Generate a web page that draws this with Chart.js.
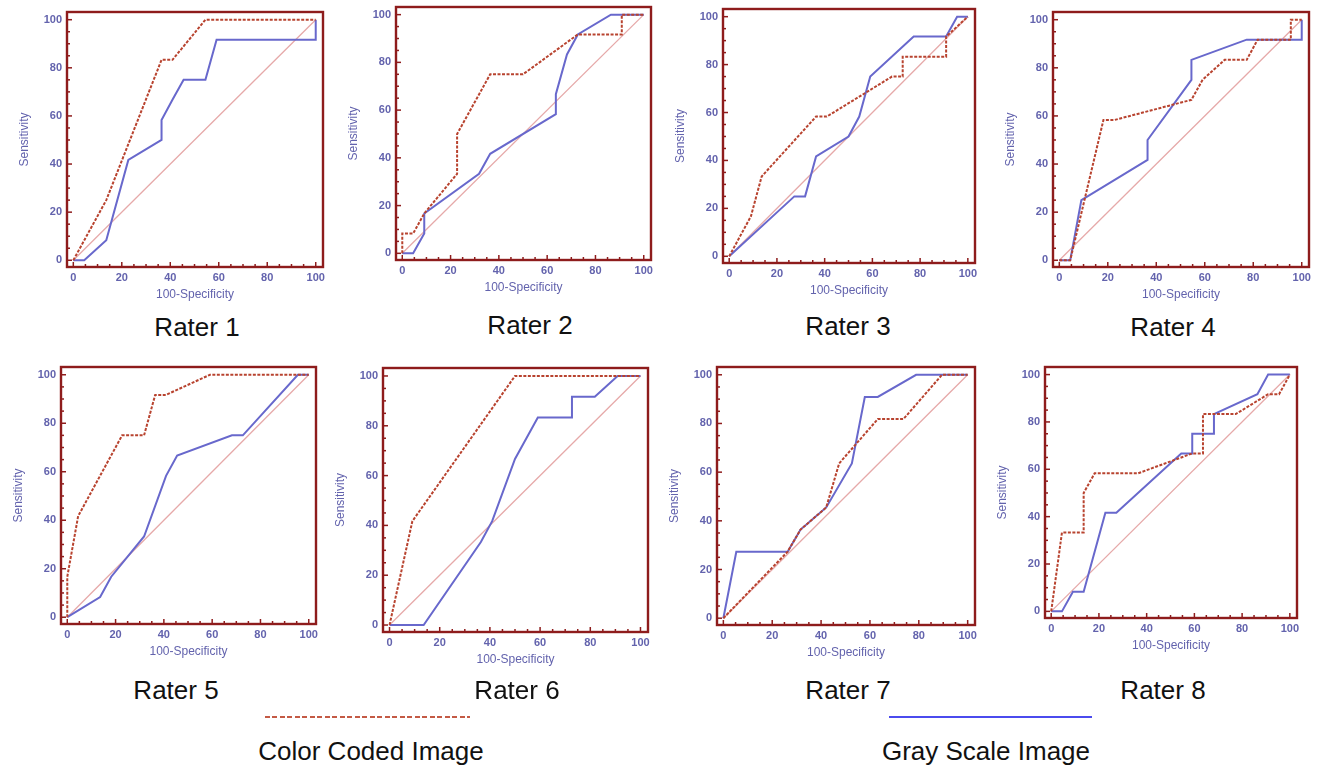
<!DOCTYPE html>
<html><head><meta charset="utf-8">
<script src="https://cdn.jsdelivr.net/npm/chart.js@4.4.0/dist/chart.umd.min.js"></script>
<style>
body{margin:0;background:#fff;width:1326px;height:773px;position:relative;overflow:hidden;font-family:"Liberation Sans",Arial,sans-serif;}
canvas{position:absolute}
.ttl{position:absolute;font-size:26px;color:#111;transform:translate(-50%,-50%);white-space:nowrap;line-height:1}
</style></head><body>
<script>
// ---------------- DATA ----------------
const raterNames = ["Rater 1","Rater 2","Rater 3","Rater 4","Rater 5","Rater 6","Rater 7","Rater 8"];
const seriesNames = ["Color Coded Image","Gray Scale Image"];
const tickValues = [0,20,40,60,80,100];
const minorTickValues = [0,5,10,15,20,25,30,35,40,45,50,55,60,65,70,75,80,85,90,95,100];
const xAxisTitle = "100-Specificity";
const yAxisTitle = "Sensitivity";
const diagonal = [[0,0],[100,100]];

// Color coded image (red dashed) : [100-Specificity, Sensitivity]
const rater1Color = [[0,0],[13.6,25],[36.4,83.3],[40.9,83.3],[54.5,100],[100,100]];
const rater2Color = [[0,0],[0,8.3],[4.5,8.3],[9.1,16.7],[22.7,33.3],[22.7,50],[36.4,75],[50,75],[72.7,91.7],[90.9,91.7],[90.9,100],[100,100]];
const rater3Color = [[0,0],[9.1,16.7],[13.6,33.3],[36.4,58.3],[40.9,58.3],[68.2,75],[72.7,75],[72.7,83.3],[90.9,83.3],[90.9,91.7],[100,100]];
const rater4Color = [[0,0],[4.5,0],[18.2,58.3],[22.7,58.3],[54.5,66.7],[59.1,75],[68.2,83.3],[77.3,83.3],[81.8,91.7],[95.5,91.7],[95.5,100],[100,100]];
const rater5Color = [[0,0],[0,16.7],[4.5,41.7],[22.7,75],[31.8,75],[36.4,91.7],[40.9,91.7],[59.1,100],[100,100]];
const rater6Color = [[0,0],[9.1,41.7],[50,100],[100,100]];
const rater7Color = [[0,0],[26.3,27.3],[31.6,36.4],[42.1,45.5],[47.4,63.6],[63.2,81.8],[73.7,81.8],[89.5,100],[100,100]];
const rater8Color = [[0,0],[4.5,33.3],[13.6,33.3],[13.6,50],[18.2,58.3],[36.4,58.3],[59.1,66.7],[63.6,66.7],[63.6,83.3],[77.3,83.3],[90.9,91.7],[95.5,91.7],[100,100]];

// Gray scale image (blue solid)
const rater1Gray = [[0,0],[4.5,0],[13.6,8.3],[22.7,41.7],[36.4,50],[36.4,58.3],[40.9,66.7],[45.5,75],[54.5,75],[59.1,91.7],[100,91.7],[100,100]];
const rater2Gray = [[0,0],[4.5,0],[9.1,8.3],[9.1,16.7],[31.8,33.3],[36.4,41.7],[63.6,58.3],[63.6,66.7],[68.2,83.3],[72.7,91.7],[86.4,100],[100,100]];
const rater3Gray = [[0,0],[27.3,25],[31.8,25],[36.4,41.7],[50,50],[54.5,58.3],[59.1,75],[77.3,91.7],[90.9,91.7],[95.5,100],[100,100]];
const rater4Gray = [[0,0],[4.5,0],[9.1,25],[36.4,41.7],[36.4,50],[54.5,75],[54.5,83.3],[77.3,91.7],[100,91.7],[100,100]];
const rater5Gray = [[0,0],[13.6,8.3],[18.2,16.7],[31.8,33.3],[40.9,58.3],[45.5,66.7],[68.2,75],[72.7,75],[95.5,100],[100,100]];
const rater6Gray = [[0,0],[13.6,0],[36.4,33.3],[40.9,41.7],[50,66.7],[59.1,83.3],[72.7,83.3],[72.7,91.7],[81.8,91.7],[90.9,100],[100,100]];
const rater7Gray = [[0,0],[5.3,27.3],[26.3,27.3],[31.6,36.4],[42.1,45.5],[52.6,63.6],[57.9,90.9],[63.2,90.9],[78.9,100],[100,100]];
const rater8Gray = [[0,0],[4.5,0],[9.1,8.3],[13.6,8.3],[22.7,41.7],[27.3,41.7],[54.5,66.7],[59.1,66.7],[59.1,75],[68.2,75],[68.2,83.3],[86.4,91.7],[90.9,100],[100,100]];

const colorSeries = [rater1Color,rater2Color,rater3Color,rater4Color,rater5Color,rater6Color,rater7Color,rater8Color];
const graySeries = [rater1Gray,rater2Gray,rater3Gray,rater4Gray,rater5Gray,rater6Gray,rater7Gray,rater8Gray];

// ---------------- LAYOUT (plot frame boxes: left, top, right, bottom) ----------------
const frames = [
  [67,12,323,267],[396,7,651,260],[723,9,975,263],[1053,12,1309,267],
  [61,367,316,624],[383,368,648,632],[717,367,975,625],[1045,367,1297,618]
];
const titlePos = [[197,327],[530,325],[848,326],[1173,327],[176,690],[517,690],[848,690],[1163,690]];
const AX = {xmin:-2.6,xmax:103,ymin:-2.8,ymax:103.2};
const YW = 56, XH = 40, PT = 8, PR = 14;

const RED = '#b8432f', BLUE = '#6868cc', FRAME = '#8e1c1c', DIAG = '#e6a9a9', LBL = '#6363ad';

const framePlugin = {
  id:'frame',
  afterDatasetsDraw(chart){
    const {ctx, chartArea:a, scales:{x,y}} = chart;
    ctx.save();
    ctx.strokeStyle = FRAME; ctx.lineWidth = 1.5;
    minorTickValues.forEach(v=>{
      const len = tickValues.includes(v) ? 5 : 3;
      const px = x.getPixelForValue(v);
      ctx.beginPath(); ctx.moveTo(px,a.bottom); ctx.lineTo(px,a.bottom-len); ctx.stroke();
      const py = y.getPixelForValue(v);
      ctx.beginPath(); ctx.moveTo(a.left,py); ctx.lineTo(a.left+len,py); ctx.stroke();
    });
    ctx.lineWidth = 2.4;
    ctx.strokeRect(a.left,a.top,a.right-a.left,a.bottom-a.top);
    ctx.restore();
  }
};

const toPts = arr => arr.map(p=>({x:p[0],y:p[1]}));
const fixTicks = s => { s.ticks = tickValues.map(v=>({value:v})); };

raterNames.forEach((name,i)=>{
  const [L,T,R,B] = frames[i];
  const cv = document.createElement('canvas');
  const w = (R-L)+YW+PR, h = (B-T)+PT+XH;
  cv.width = w; cv.height = h;
  cv.style.left = (L-YW)+'px'; cv.style.top = (T-PT)+'px';
  cv.style.width = w+'px'; cv.style.height = h+'px';
  document.body.appendChild(cv);

  new Chart(cv.getContext('2d'),{
    type:'line',
    data:{datasets:[
      {label:seriesNames[0],data:toPts(colorSeries[i]),borderColor:RED,borderWidth:2,borderDash:[3,1.5],pointRadius:0,tension:0,fill:false},
      {label:seriesNames[1],data:toPts(graySeries[i]),borderColor:BLUE,borderWidth:2,pointRadius:0,tension:0,fill:false},
      {label:'diag',data:toPts(diagonal),borderColor:DIAG,borderWidth:1.3,pointRadius:0,tension:0,fill:false}
    ]},
    options:{
      responsive:false,animation:false,devicePixelRatio:1,
      layout:{padding:{left:0,top:PT,right:PR,bottom:0},autoPadding:false},
      plugins:{legend:{display:false},tooltip:{enabled:false}},
      scales:{
        x:{type:'linear',min:AX.xmin,max:AX.xmax,
          afterBuildTicks:fixTicks,
          afterFit:s=>{s.height=XH;s.paddingLeft=0;s.paddingRight=0;},
          grid:{display:false,drawTicks:false},border:{display:false},
          ticks:{padding:4,color:LBL,font:{family:'Liberation Sans',size:11,weight:'bold'},maxRotation:0,autoSkip:false},
          title:{display:true,text:xAxisTitle,color:LBL,font:{family:'Liberation Sans',size:12},padding:{top:0,bottom:5}}
        },
        y:{type:'linear',min:AX.ymin,max:AX.ymax,
          afterBuildTicks:fixTicks,
          afterFit:s=>{s.width=YW;s.paddingTop=0;s.paddingBottom=0;},
          grid:{display:false,drawTicks:false},border:{display:false},
          ticks:{padding:5,color:LBL,font:{family:'Liberation Sans',size:11,weight:'bold'},autoSkip:false},
          title:{display:true,text:yAxisTitle,color:LBL,font:{family:'Liberation Sans',size:12},padding:{top:6,bottom:0}}
        }
      }
    },
    plugins:[framePlugin]
  });

  const t = document.createElement('div');
  t.className='ttl'; t.textContent=name;
  t.style.left=titlePos[i][0]+'px'; t.style.top=titlePos[i][1]+'px';
  document.body.appendChild(t);
});

// legend
const lg = [
  {x:265,w:205,name:seriesNames[0],bg:'repeating-linear-gradient(90deg,#c45a45 0 5px,transparent 5px 7.5px)',cx:371},
  {x:889,w:203,name:seriesNames[1],bg:'#4b4bee',cx:986}
];
lg.forEach(l=>{
  const d = document.createElement('div');
  d.style.cssText = `position:absolute;left:${l.x}px;top:716px;width:${l.w}px;height:2px;background:${l.bg}`;
  document.body.appendChild(d);
  const t = document.createElement('div');
  t.className='ttl'; t.textContent=l.name;
  t.style.left=l.cx+'px'; t.style.top='751px';
  document.body.appendChild(t);
});
</script>
</body></html>
